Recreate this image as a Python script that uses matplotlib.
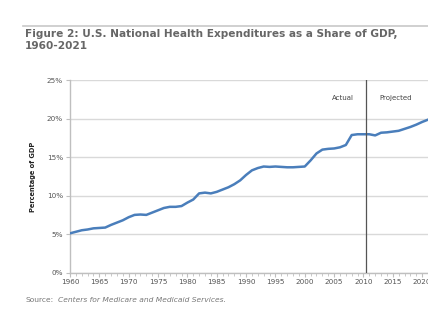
import matplotlib
matplotlib.use("Agg")
import matplotlib.pyplot as plt
import numpy as np

years = list(range(1960, 2022))
share = [5.1, 5.3, 5.5, 5.6, 5.75, 5.8, 5.85, 6.2, 6.5, 6.8,
         7.2, 7.5, 7.55, 7.5, 7.8, 8.1, 8.4, 8.55, 8.55, 8.65,
         9.1, 9.5, 10.3, 10.4, 10.3, 10.5, 10.8, 11.1, 11.5, 12.0,
         12.7, 13.3, 13.6, 13.8, 13.75, 13.8, 13.75, 13.7, 13.7, 13.75,
         13.8, 14.6, 15.5, 16.0, 16.1, 16.15, 16.3, 16.6, 17.9, 18.0,
         18.0, 18.0, 17.85, 18.2, 18.25, 18.35, 18.45, 18.7, 18.95, 19.25,
         19.6, 19.9]
yticks = [0, 5, 10, 15, 20, 25]
ytick_labels = ["0%", "5%", "10%", "15%", "20%", "25%"]
xticks = list(range(1960, 2021, 5))
split_year = 2010.5

fig = plt.figure(figsize=(4.28, 3.31), dpi=100)
ax = fig.add_axes([70/428, 1-272.5/331, 1-70/428, (272.5-80.5)/331])

ax.plot(years, share, color="#4a7ebb", lw=1.8, solid_joinstyle="round", zorder=3, clip_on=True)
ax.set_xlim(1960, 2020.3)
ax.set_ylim(0, 25)
ax.set_yticks(yticks)
ax.set_yticklabels(ytick_labels)
ax.set_xticks(xticks)
ax.set_xticklabels([str(x) for x in xticks])
ax.set_xticks(years, minor=True)
ax.grid(axis="y", color="#d9d9d9", lw=1.0)
ax.set_axisbelow(True)
for s in ["top", "right"]:
    ax.spines[s].set_visible(False)
for s in ["left", "bottom"]:
    ax.spines[s].set_color("#bfbfbf")
    ax.spines[s].set_linewidth(1.0)
ax.tick_params(axis="both", labelsize=5.2, colors="#bfbfbf", labelcolor="#555555", length=3, width=0.8)
ax.tick_params(axis="x", which="minor", length=2, width=0.6, colors="#bfbfbf")
ax.tick_params(axis="x", pad=2)
ax.tick_params(axis="y", pad=2)
ax.set_ylabel("Percentage of GDP", fontsize=4.8, fontweight="bold", color="#222222", labelpad=8)

ax.axvline(split_year, color="#555555", lw=0.9, zorder=4)
ax.text(2006.5, 22.7, "Actual", fontsize=5.0, color="#444444", ha="center", va="center")
ax.text(2015.4, 22.7, "Projected", fontsize=5.0, color="#444444", ha="center", va="center")

fig.add_artist(plt.Line2D([23/428, 1.0], [1-25.5/331, 1-25.5/331], color="#c8c8c8", lw=1.2))
fig.text(25/428, 1-29/331, "Figure 2: U.S. National Health Expenditures as a Share of GDP,\n1960-2021",
         fontsize=7.6, fontweight="bold", color="#666666", ha="left", va="top", linespacing=1.2)
fig.text(25/428, 1-300/331, "Source:", fontsize=5.4, color="#777777", ha="left", va="center")
fig.text(58/428, 1-300/331, "Centers for Medicare and Medicaid Services.", fontsize=5.4, style="italic",
         color="#777777", ha="left", va="center")

fig.savefig("out.png", dpi=100)
